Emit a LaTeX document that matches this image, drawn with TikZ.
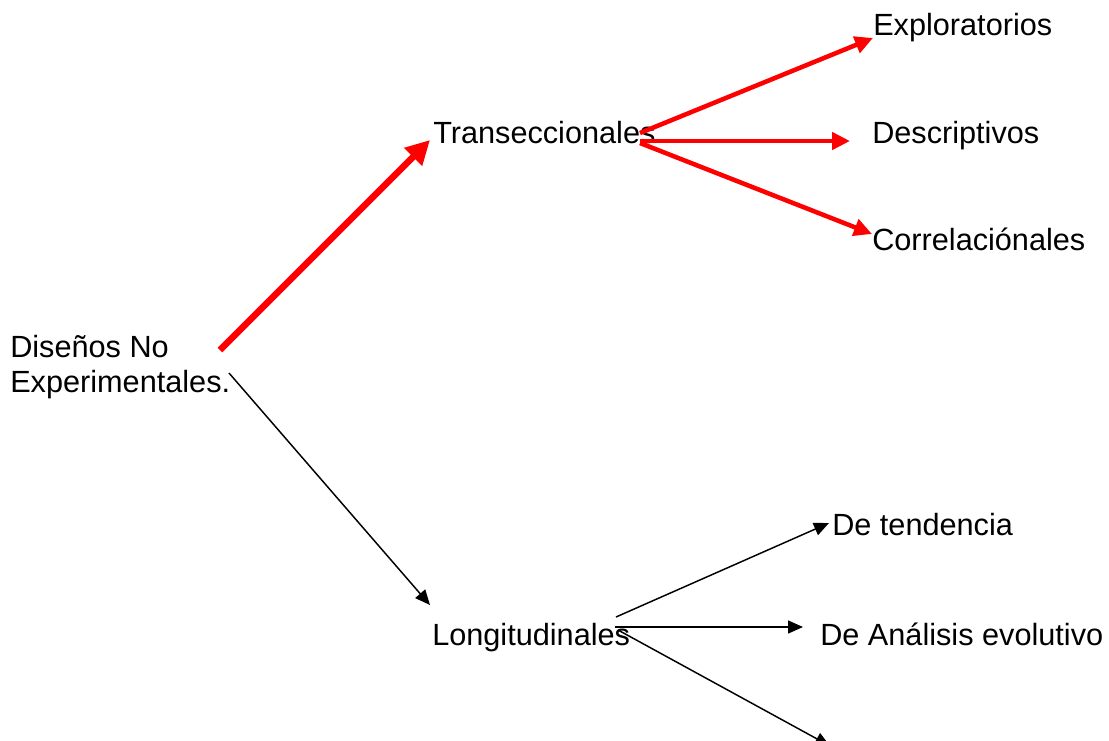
\documentclass[tikz,border=0pt]{standalone}
\usepackage{fontspec}
\setmainfont{Liberation Sans}
\usetikzlibrary{arrows.meta}
\begin{document}
\begin{tikzpicture}[x=0.75pt,y=-0.75pt,
  lbl/.style={inner sep=0pt,anchor=base west,font=\fontsize{23}{26.25}\selectfont,align=left},
  redthick/.style={draw=red,line width=4.8pt,-{Triangle[length=18pt,width=18pt]}},
  redarr/.style={draw=red,line width=3.4pt,-{Triangle[length=13.5pt,width=12.75pt]}},
  blkarr/.style={draw=black,line width=1.1pt,-{Triangle[length=11.25pt,width=9.75pt]}}]
\clip (0,0) rectangle (1109,740);
\fill[white] (0,0) rectangle (1109,740);
% nodes
\node[lbl] (dis) at (10,392) {Diseños No\\Experimentales.};
\node[lbl] (trans) at (433,143) {Transeccionales};
\node[lbl] (expl) at (873,35) {Exploratorios};
\node[lbl] (desc) at (872,143) {Descriptivos};
\node[lbl] (corr) at (872,250) {Correlaciónales};
\node[lbl] (long) at (432,645) {Longitudinales};
\node[lbl] (tend) at (832,535) {De tendencia};
\node[lbl] (anal) at (820,645) {De Análisis evolutivo};
% connector end points
\coordinate (disR) at (220,350);
\coordinate (disB) at (229,373);
\coordinate (transIn) at (430,140);
\coordinate (transU) at (640,133);
\coordinate (transM) at (640,141);
\coordinate (transL) at (640,143);
\coordinate (explIn) at (873,38);
\coordinate (descIn) at (850,141);
\coordinate (corrIn) at (872,234);
\coordinate (longIn) at (430,605);
\coordinate (longU) at (616,617);
\coordinate (longM) at (615,627);
\coordinate (longL) at (618,630);
\coordinate (tendIn) at (829,523);
\coordinate (analIn) at (803,627);
\coordinate (hidIn) at (830,746);
% connectors
\draw[redthick] (disR) -- (transIn);
\draw[redarr] (transU) -- (explIn);
\draw[redarr] (transM) -- (descIn);
\draw[redarr] (transL) -- (corrIn);
\draw[blkarr] (disB) -- (longIn);
\draw[blkarr] (longU) -- (tendIn);
\draw[blkarr] (longM) -- (analIn);
\draw[blkarr] (longL) -- (hidIn);
\end{tikzpicture}
\end{document}
